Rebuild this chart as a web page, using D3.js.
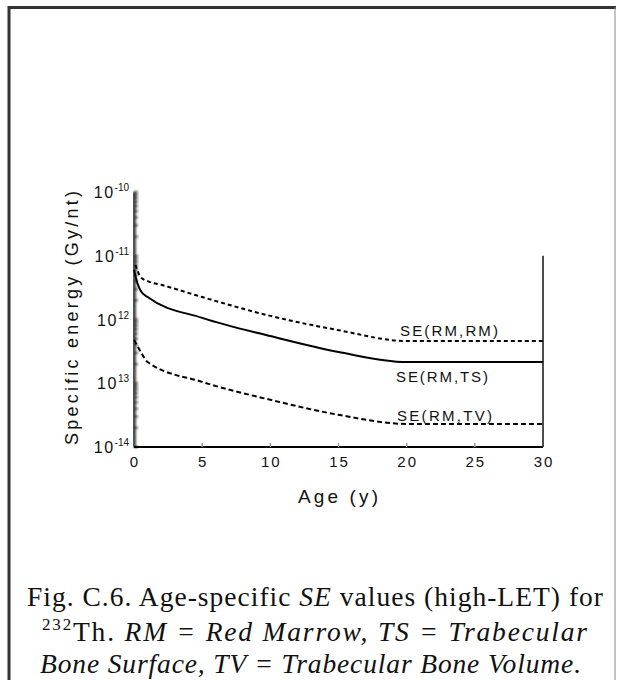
<!DOCTYPE html>
<html>
<head>
<meta charset="utf-8">
<script src="https://cdn.jsdelivr.net/npm/d3@7"></script>
<style>
  body { margin: 0; background: #fff; }
  svg { display: block; }
  .tick-lbl { font-family: "Liberation Sans", Arial, sans-serif; fill: #111; }
  .cap { font-family: "Liberation Serif", "Times New Roman", serif; fill: #111; }
</style>
</head>
<body>
<svg width="619" height="680"></svg>
<script>
// data (age in years, specific energy in Gy/nt)
const rmrmAge = [0.1, 0.5, 1, 2, 5, 10, 15, 20, 30];
const rmrmSE = [7.2e-12, 4.6e-12, 4.0e-12, 3.5e-12, 2.25e-12, 1.14e-12, 6.8e-13, 4.6e-13, 4.6e-13];

const rmtsAge = [0, 0.25, 0.5, 1, 5, 10, 15, 20, 30];
const rmtsSE = [6.0e-12, 3.7e-12, 2.8e-12, 2.25e-12, 1.06e-12, 5.5e-13, 3.1e-13, 2.15e-13, 2.15e-13];

const rmtvAge = [0, 0.5, 1, 5, 10, 15, 20, 30];
const rmtvSE = [4.8e-13, 3.1e-13, 2.15e-13, 1.05e-13, 5.5e-14, 3.2e-14, 2.3e-14, 2.3e-14];

const seriesNames = ["SE(RM,RM)", "SE(RM,TS)", "SE(RM,TV)"];
const xTicks = [0, 5, 10, 15, 20, 25, 30];
const yTicks = [1e-14, 1e-13, 1e-12, 1e-11, 1e-10];
const yTickExp = ["-14", "13", "12", "-11", "-10"];

const svg = d3.select("svg");

const x = d3.scaleLinear().domain([0, 30]).range([134, 543]);
const y = d3.scaleLog().domain([1e-14, 1e-10]).range([447, 192]);

// outer frame
svg.append("line").attr("x1", 9).attr("x2", 9).attr("y1", 6).attr("y2", 680)
  .attr("stroke", "#333").attr("stroke-width", 3);
svg.append("line").attr("x1", 8).attr("x2", 616).attr("y1", 7.5).attr("y2", 7.5)
  .attr("stroke", "#333").attr("stroke-width", 3);
svg.append("line").attr("x1", 615).attr("x2", 615).attr("y1", 7).attr("y2", 680)
  .attr("stroke", "#888").attr("stroke-width", 1);

const defs = svg.append("defs");
defs.append("filter").attr("id", "fuzz")
  .append("feGaussianBlur").attr("stdDeviation", 0.9);

// y axis: fuzzy scanned band plus minor ticks
const yAx = svg.append("g").attr("filter", "url(#fuzz)");
yAx.append("line").attr("x1", x(0)).attr("x2", x(0))
  .attr("y1", y(1e-10)).attr("y2", y(1e-14))
  .attr("stroke", "#444").attr("stroke-width", 4);
yAx.selectAll(".minor").data(y.ticks()).enter().append("line")
  .attr("x1", x(0)).attr("x2", x(0) + 4)
  .attr("y1", d => y(d)).attr("y2", d => y(d))
  .attr("stroke", "#222").attr("stroke-width", 1.5);

const yLbl = svg.append("g").selectAll("text").data(yTicks).enter().append("text")
  .attr("class", "tick-lbl")
  .attr("x", 129).attr("y", d => y(d) + 6)
  .attr("text-anchor", "end");
yLbl.append("tspan").attr("font-size", 16).attr("letter-spacing", 1.5).text("10");
yLbl.append("tspan").attr("font-size", 10).attr("dy", -7)
  .text((d, i) => yTickExp[i]);

// x axis
svg.append("line").attr("x1", x(0)).attr("x2", x(30))
  .attr("y1", y(1e-14)).attr("y2", y(1e-14))
  .attr("stroke", "#000").attr("stroke-width", 2);
svg.selectAll(".xt").data(xTicks.slice(1, -1)).enter().append("line")
  .attr("x1", d => x(d)).attr("x2", d => x(d))
  .attr("y1", y(1e-14) - 4).attr("y2", y(1e-14))
  .attr("stroke", "#999").attr("stroke-width", 1.5);
svg.selectAll(".xl").data(xTicks).enter().append("text")
  .attr("class", "tick-lbl")
  .attr("x", d => x(d)).attr("y", 467)
  .attr("text-anchor", "middle").attr("font-size", 15)
  .attr("letter-spacing", 2).attr("dx", 1)
  .text(d => d);

// right edge line at 30 y
svg.append("line").attr("x1", x(30)).attr("x2", x(30))
  .attr("y1", y(1e-11)).attr("y2", y(1e-14))
  .attr("stroke", "#111").attr("stroke-width", 1.5);

// axis titles
svg.append("text").attr("class", "tick-lbl")
  .attr("transform", "translate(78,318) rotate(-90)")
  .attr("text-anchor", "middle").attr("font-size", 18)
  .attr("textLength", 254).attr("lengthAdjust", "spacing")
  .text("Specific energy (Gy/nt)");
svg.append("text").attr("class", "tick-lbl")
  .attr("x", 338).attr("y", 503)
  .attr("text-anchor", "middle").attr("font-size", 19)
  .attr("textLength", 80).attr("lengthAdjust", "spacing")
  .text("Age (y)");

// curves
const line = d3.line().x(d => x(d[0])).y(d => y(d[1])).curve(d3.curveMonotoneX);
const series = [
  { ages: rmrmAge, vals: rmrmSE, dash: "4,3" },
  { ages: rmtsAge, vals: rmtsSE, dash: null },
  { ages: rmtvAge, vals: rmtvSE, dash: "5,3" }
];
series.forEach(s => {
  svg.append("path")
    .attr("d", line(s.ages.map((a, i) => [a, s.vals[i]])))
    .attr("fill", "none").attr("stroke", "#000").attr("stroke-width", 2)
    .attr("stroke-dasharray", s.dash);
});

// curve labels
const lblPos = [[400, 336], [396, 382], [397, 421]];
svg.selectAll(".sl").data(seriesNames).enter().append("text")
  .attr("class", "tick-lbl")
  .attr("x", (d, i) => lblPos[i][0]).attr("y", (d, i) => lblPos[i][1])
  .attr("font-size", 15)
  .attr("textLength", (d, i) => [98, 92, 95][i]).attr("lengthAdjust", "spacing")
  .text(d => d);

// caption
const cap1 = svg.append("text").attr("class", "cap").attr("font-size", 27.5)
  .attr("x", 27).attr("y", 606).attr("textLength", 576).attr("lengthAdjust", "spacing");
cap1.append("tspan").text("Fig. C.6.  Age-specific ");
cap1.append("tspan").attr("font-style", "italic").text("SE");
cap1.append("tspan").text(" values (high-LET) for");

const cap2 = svg.append("text").attr("class", "cap").attr("font-size", 27.5)
  .attr("x", 42).attr("y", 641).attr("textLength", 545).attr("lengthAdjust", "spacing");
cap2.append("tspan").attr("font-size", 17).attr("dy", -11).text("232");
cap2.append("tspan").attr("dy", 11).text("Th.  ");
cap2.append("tspan").attr("font-style", "italic")
  .text("RM = Red Marrow, TS  =  Trabecular");

svg.append("text").attr("class", "cap").attr("font-size", 27.5)
  .attr("font-style", "italic")
  .attr("x", 40).attr("y", 673).attr("textLength", 541).attr("lengthAdjust", "spacing")
  .text("Bone Surface, TV = Trabecular Bone Volume.");
</script>
</body>
</html>
